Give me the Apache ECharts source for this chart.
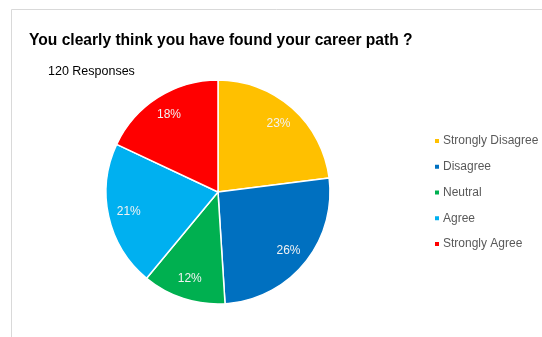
<!DOCTYPE html>
<html>
<head>
<meta charset="utf-8">
<script src="https://cdn.jsdelivr.net/npm/echarts@6/dist/echarts.min.js"></script>
<style>
  html, body { margin: 0; padding: 0; background: #fff; }
  #chart { width: 542px; height: 337px; }
</style>
</head>
<body>
<div id="chart"></div>
<script>
// Survey answers: share of 120 respondents (percent)
const categories = ['Strongly Disagree', 'Disagree', 'Neutral', 'Agree', 'Strongly Agree'];
const shares = [23, 26, 12, 21, 18];
const colors = ['#FFC000', '#0070C0', '#00B050', '#00B0F0', '#FF0000'];

const FONT = 'Liberation Sans, Arial, sans-serif';
const center = [218, 192];
const R = 112;

const data = categories.map((name, i) => ({ name, value: shares[i], itemStyle: { color: colors[i] } }));

const chart = echarts.init(document.getElementById('chart'), null, { renderer: 'canvas' });
chart.setOption({
  animation: false,
  backgroundColor: '#fff',
  title: [
    {
      text: 'You clearly think you have found your career path ?',
      left: 24, top: 28,
      textStyle: { fontFamily: FONT, fontSize: 15.6, fontWeight: 'bold', color: '#000' }
    },
    {
      text: '120 Responses',
      left: 43, top: 60,
      textStyle: { fontFamily: FONT, fontSize: 12.5, fontWeight: 'normal', color: '#000' }
    }
  ],
  legend: {
    orient: 'vertical',
    left: 428, top: 130,
    itemWidth: 6, itemHeight: 6, itemGap: 13.75,
    icon: 'rect',
    data: categories,
    textStyle: { fontFamily: FONT, fontSize: 12, color: '#595959', padding: [0, 0, 0, -2] }
  },
  graphic: [
    {
      type: 'polyline',
      shape: { points: [[11.5, 337], [11.5, 9.5], [542, 9.5]] },
      style: { stroke: '#d9d9d9', lineWidth: 1, fill: null },
      silent: true
    }
  ],
  series: [
    {
      type: 'pie',
      center, radius: R,
      startAngle: 90, clockwise: true,
      label: { show: false }, labelLine: { show: false },
      itemStyle: { borderColor: '#fff', borderWidth: 1.5 },
      data
    },
    {
      // transparent twin that places the percentage labels near the rim
      type: 'pie',
      center, radius: R * 1.58,
      startAngle: 90, clockwise: true,
      silent: true,
      legendHoverLink: false,
      itemStyle: { color: 'rgba(0,0,0,0)', borderWidth: 0 },
      label: {
        show: true, position: 'inside',
        formatter: p => p.value + '%',
        fontFamily: FONT, fontSize: 12, color: '#f2f2f2'
      },
      labelLine: { show: false },
      data: categories.map((name, i) => ({ name: name + ' ', value: shares[i] }))
    }
  ]
});
</script>
</body>
</html>
